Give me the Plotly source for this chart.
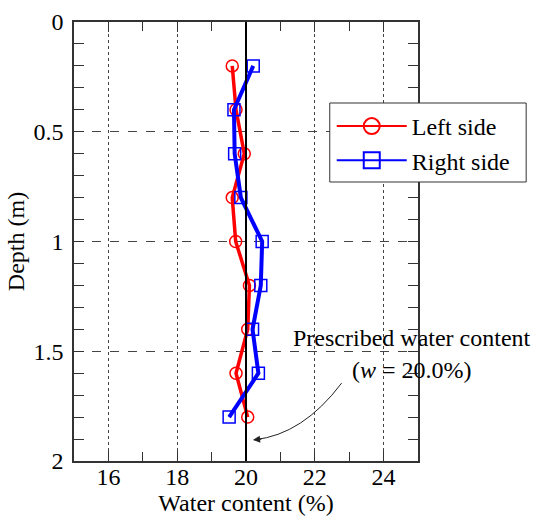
import plotly.graph_objects as go

depth = [0.2, 0.4, 0.6, 0.8, 1.0, 1.2, 1.4, 1.6, 1.8]
left_side = [19.60, 19.71, 19.95, 19.60, 19.70, 20.10, 20.05, 19.71, 20.05]
right_side = [20.21, 19.65, 19.67, 19.85, 20.47, 20.43, 20.19, 20.36, 19.51]
prescribed_w = 20.0

x_ticks = [16, 18, 20, 22, 24]
y_ticks = [0, 0.5, 1, 1.5, 2]
y_tick_labels = ["0", "0.5", "1", "1.5", "2"]

FONT = "Liberation Serif, Times New Roman, serif"
FS = 24

# plot-area geometry in pixels (used only to place legend / annotation in paper units)
L, R, T, B = 73.5, 418.5, 22, 461
W, H = R - L, B - T

fig = go.Figure()

fig.add_trace(go.Scatter(
    x=left_side, y=depth, mode="lines+markers", name="Left side",
    line=dict(color="#ff0000", width=3.5),
    marker=dict(symbol="circle-open", size=12, color="#ff0000", line=dict(width=1.5)),
    showlegend=False,
))
fig.add_trace(go.Scatter(
    x=right_side, y=depth, mode="lines+markers", name="Right side",
    line=dict(color="#0000ff", width=4),
    marker=dict(symbol="square-open", size=12, color="#0000ff", line=dict(width=1.5)),
    showlegend=False,
))
# legend entries (larger symbols as in the reference)
fig.add_trace(go.Scatter(
    x=[None], y=[None], mode="lines+markers", name="Left side",
    line=dict(color="#ff0000", width=2),
    marker=dict(symbol="circle-open", size=18, color="#ff0000", line=dict(width=2)),
))
fig.add_trace(go.Scatter(
    x=[None], y=[None], mode="lines+markers", name="Right side",
    line=dict(color="#0000ff", width=2),
    marker=dict(symbol="square-open", size=18, color="#0000ff", line=dict(width=2)),
))

# prescribed water content line
fig.add_shape(type="line", xref="x", yref="y", x0=prescribed_w, x1=prescribed_w,
              y0=0, y1=2, line=dict(color="black", width=2))

# legend box
fig.add_shape(type="rect", xref="paper", yref="paper", layer="above",
              x0=(330 - L) / W, x1=(527 - L) / W, y0=1 - (182 - T) / H, y1=1 - (103 - T) / H,
              fillcolor="white", line=dict(color="#333333", width=1))

# curved arrow
fig.add_shape(type="path", xref="x", yref="y",
              path="M 22.78,1.645 Q 21.65,1.88 20.25,1.903",
              line=dict(color="#222222", width=1))
fig.add_annotation(x=20.2, y=1.904, xref="x", yref="y", ax=10, ay=-1,
                   axref="pixel", ayref="pixel", text="", showarrow=True,
                   arrowhead=2, arrowsize=1.2, arrowwidth=1.2, arrowcolor="#222222")

fig.add_annotation(x=(412 - L) / W, y=1 - (338 - T) / H, xref="paper", yref="paper",
                   text="Prescribed water content", showarrow=False,
                   font=dict(family=FONT, size=FS, color="black"),
                   xanchor="center", yanchor="middle")
fig.add_annotation(x=(412 - L) / W, y=1 - (370 - T) / H, xref="paper", yref="paper",
                   text="(<i>w</i> = 20.0%)", showarrow=False,
                   font=dict(family=FONT, size=FS, color="black"),
                   xanchor="center", yanchor="middle")

fig.update_xaxes(
    range=[15, 25], tickvals=x_ticks, ticks="inside", ticklen=10, tickwidth=1.2,
    tickcolor="#333333", showline=True, linecolor="#333333", linewidth=1.5, mirror="ticks",
    showgrid=True, gridcolor="#444444", gridwidth=1, griddash="dot",
    minor=dict(dtick=1, ticks="inside", ticklen=9, tickwidth=1.2, tickcolor="#333333", showgrid=False),
    zeroline=False, ticklabelstandoff=-7,
    title=dict(text="Water content (%)", font=dict(family=FONT, size=FS, color="black"), standoff=0),
    tickfont=dict(family=FONT, size=FS, color="black"),
)
fig.update_yaxes(
    range=[2, 0], tickvals=y_ticks, ticktext=y_tick_labels, ticks="inside", ticklen=10, tickwidth=1.2,
    tickcolor="#333333", showline=True, linecolor="#333333", linewidth=1.5, mirror="ticks",
    showgrid=True, gridcolor="#444444", gridwidth=1, griddash="dash",
    minor=dict(dtick=0.1, ticks="inside", ticklen=10, tickwidth=1.2, tickcolor="#333333", showgrid=False),
    zeroline=False, ticklabelstandoff=4,
    title=dict(text="Depth (m)", font=dict(family=FONT, size=FS, color="black"), standoff=2),
    tickfont=dict(family=FONT, size=FS, color="black"),
)

fig.update_layout(
    width=534, height=519,
    margin=dict(l=L, r=534 - R, t=T, b=519 - B, autoexpand=False),
    plot_bgcolor="white", paper_bgcolor="white",
    font=dict(family=FONT, size=FS, color="black"),
    legend=dict(x=(332 - L) / W, y=1 - (104 - T) / H, xanchor="left", yanchor="top",
                bgcolor="rgba(0,0,0,0)", borderwidth=0,
                font=dict(family=FONT, size=FS, color="black"), itemwidth=70,
                tracegroupgap=0),
    showlegend=True,
)

fig.write_html("out.html", config={"displayModeBar": False},
               post_script="document.body.style.margin='0';document.body.style.padding='0';")
